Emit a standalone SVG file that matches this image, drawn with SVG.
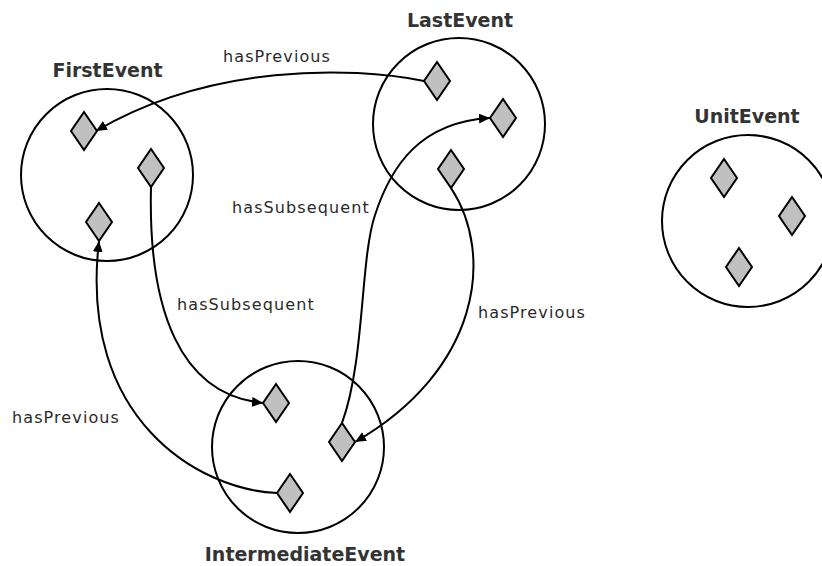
<svg xmlns="http://www.w3.org/2000/svg" width="822" height="566" viewBox="0 0 822 566">
<style>
.ring{fill:none;stroke:#000;stroke-width:2}
.dia{fill:#c0c0c0;stroke:#000;stroke-width:2;stroke-linejoin:miter}
.title{font-family:"DejaVu Sans",Verdana,sans-serif;font-weight:bold;font-size:19px;fill:#333;text-anchor:middle}
.lbl{font-family:"DejaVu Sans",Verdana,sans-serif;font-size:16px;fill:#2a2a2a;letter-spacing:1.1px}
.edge{fill:none;stroke:#000;stroke-width:2;marker-end:url(#arr)}
</style>
<defs>
<marker id="arr" markerUnits="userSpaceOnUse" markerWidth="12" markerHeight="10" refX="11" refY="5" orient="auto">
<path d="M0,0 L11,5 L0,10 z" fill="#000"/>
</marker>
<path id="d" d="M0,-19 L13,0 L0,19 L-13,0 z"/>
</defs>
<rect width="822" height="566" fill="#fff"/>

<g id="FirstEvent">
<circle class="ring" cx="107" cy="175" r="86"/>
<use href="#d" class="dia" x="84" y="131"/>
<use href="#d" class="dia" x="151" y="168"/>
<use href="#d" class="dia" x="99" y="222"/>
<text class="title" x="107.5" y="77">FirstEvent</text>
</g>

<g id="LastEvent">
<circle class="ring" cx="459" cy="124" r="86"/>
<use href="#d" class="dia" x="437" y="81"/>
<use href="#d" class="dia" x="503" y="118"/>
<use href="#d" class="dia" x="451" y="169"/>
<text class="title" x="460" y="27">LastEvent</text>
</g>

<g id="IntermediateEvent">
<circle class="ring" cx="298" cy="447" r="86"/>
<use href="#d" class="dia" x="276" y="403"/>
<use href="#d" class="dia" x="342" y="442"/>
<use href="#d" class="dia" x="290" y="493"/>
<text class="title" x="305" y="561">IntermediateEvent</text>
</g>

<g id="UnitEvent">
<circle class="ring" cx="748" cy="221" r="86"/>
<use href="#d" class="dia" x="724" y="178"/>
<use href="#d" class="dia" x="792" y="216"/>
<use href="#d" class="dia" x="739" y="267"/>
<text class="title" x="747" y="123">UnitEvent</text>
</g>

<g id="connectors">
<path class="edge" d="M424,81 C350,66 210,64 96,131"/>
<path class="edge" d="M151,187 C148,310 180,395 263,403"/>
<path class="edge" d="M277,493 C200,490 78,420 99,241"/>
<path class="edge" d="M342,423 C365,360 360,260 375,215 C391,166 420,122 490,118"/>
<path class="edge" d="M451,188 C495,255 480,370 355,442"/>
<text class="lbl" x="223" y="62">hasPrevious</text>
<text class="lbl" x="177" y="310">hasSubsequent</text>
<text class="lbl" x="12" y="423">hasPrevious</text>
<text class="lbl" x="232" y="213">hasSubsequent</text>
<text class="lbl" x="478" y="318">hasPrevious</text>
</g>
</svg>
